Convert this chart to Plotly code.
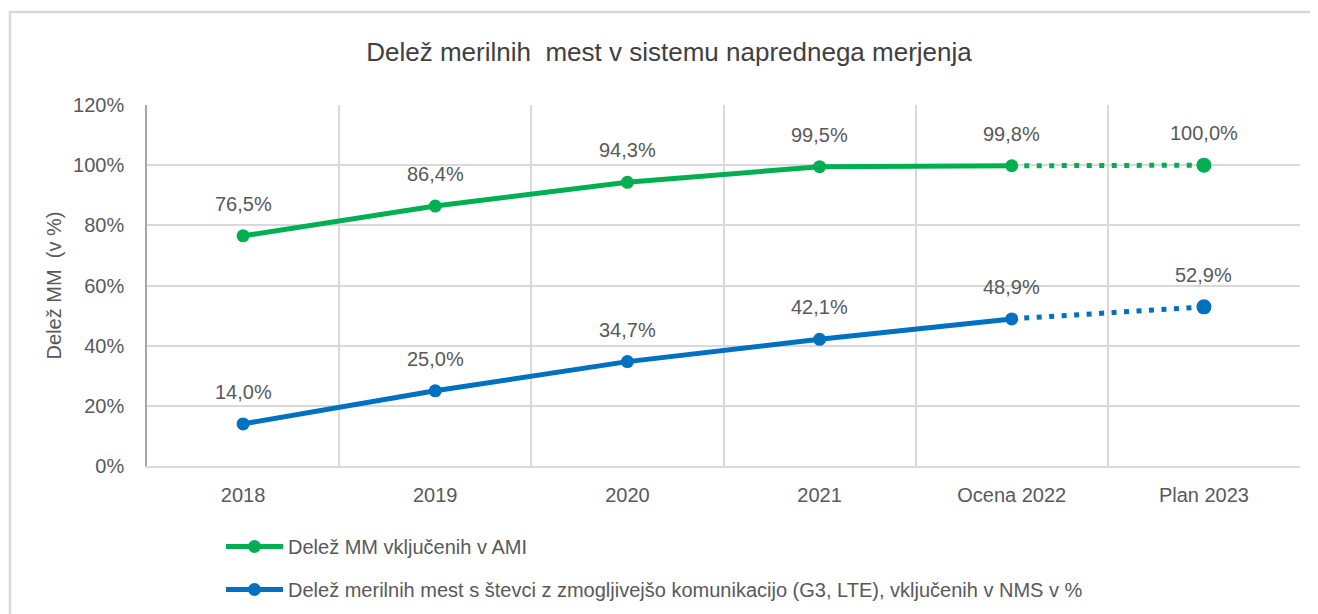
import plotly.graph_objects as go

categories = ["2018", "2019", "2020", "2021", "Ocena 2022", "Plan 2023"]
ami_values = [76.5, 86.4, 94.3, 99.5, 99.8, 100.0]
nms_values = [14.0, 25.0, 34.7, 42.1, 48.9, 52.9]
ami_name = "Delež MM vključenih v AMI"
nms_name = "Delež merilnih mest s števci z zmogljivejšo komunikacijo (G3, LTE), vključenih v NMS v %"
y_ticks = [0, 20, 40, 60, 80, 100, 120]

GREEN = "#00B050"
BLUE = "#0070C0"
TXT = "#595959"
FONT = "Liberation Sans, Arial, sans-serif"

# the page has an 8px body margin
W, H = 1310, 606
L, R, T, B = 139, 18, 97, 148
pw = W - L - R
ph = H - T - B

fig = go.Figure()

def add_series(vals, name, color, group):
    fig.add_trace(go.Scatter(
        x=categories[:5], y=vals[:5], mode="lines+markers", name=name,
        line=dict(color=color, width=5), marker=dict(size=13, color=color, opacity=1),
        legendgroup=group, showlegend=True, hoverinfo="x+y"))
    fig.add_trace(go.Scatter(
        x=categories[4:], y=vals[4:], mode="lines", name=name,
        line=dict(color=color, width=5, dash="5px,7.5px"),
        legendgroup=group, showlegend=False, hoverinfo="skip"))
    fig.add_trace(go.Scatter(
        x=categories[5:], y=vals[5:], mode="markers", name=name,
        marker=dict(size=15, color=color, opacity=1),
        legendgroup=group, showlegend=False, hoverinfo="x+y"))

add_series(ami_values, ami_name, GREEN, "g1")
add_series(nms_values, nms_name, BLUE, "g2")

annotations = []
for vals in (ami_values, nms_values):
    for i, v in enumerate(vals):
        annotations.append(dict(
            x=i, y=v, xref="x", yref="y", text=f"{v:.1f}%".replace(".", ","),
            showarrow=False, yshift=32, yanchor="middle",
            font=dict(family=FONT, size=20, color=TXT)))

fig.update_layout(
    width=W, height=H,
    margin=dict(l=L, r=R, t=T, b=B, autoexpand=False),
    paper_bgcolor="white", plot_bgcolor="white",
    font=dict(family=FONT, size=20, color=TXT),
    title=dict(text="Delež merilnih  mest v sistemu naprednega merjenja",
               x=(357 - 8 + 312 - L) / pw, xref="paper", xanchor="center",
               y=1 - 44 / H, yanchor="middle",
               font=dict(family=FONT, size=26, color="#404040")),
    showlegend=True,
    legend=dict(orientation="v", x=74 / pw, xanchor="left",
                y=(H - B - 519) / ph, yanchor="top",
                font=dict(family=FONT, size=20, color=TXT),
                tracegroupgap=14, itemwidth=57, bgcolor="rgba(0,0,0,0)"),
    annotations=annotations,
    shapes=[dict(type="rect", xref="paper", yref="paper",
                 x0=(2 - L) / pw, x1=(W + 5 - L) / pw,
                 y0=(H - B - (H + 10)) / ph, y1=1 + (T - 4) / ph,
                 line=dict(color="#D9D9D9", width=2.5), fillcolor="rgba(0,0,0,0)",
                 layer="below")],
)

fig.update_xaxes(type="category", categoryorder="array", categoryarray=categories,
                 range=[-0.5, 5.5], tickson="boundaries", showgrid=True,
                 gridcolor="#D9D9D9", gridwidth=2, showline=True, linecolor="#D9D9D9",
                 linewidth=2, ticks="", ticklen=0, fixedrange=True, ticklabelstandoff=10,
                 tickfont=dict(family=FONT, size=20, color=TXT), zeroline=False)
fig.update_yaxes(range=[0, 120], tickvals=y_ticks, ticktext=[f"{t}%" for t in y_ticks],
                 showgrid=True, gridcolor="#D9D9D9", gridwidth=2, showline=True,
                 linecolor="#A6A6A6", linewidth=1.5, zeroline=False, ticks="",
                 tickfont=dict(family=FONT, size=20, color=TXT), ticklabelstandoff=17,
                 title=dict(text="Delež MM  (v %)", standoff=6,
                            font=dict(family=FONT, size=20, color=TXT)))

fig.write_html("out.html")
